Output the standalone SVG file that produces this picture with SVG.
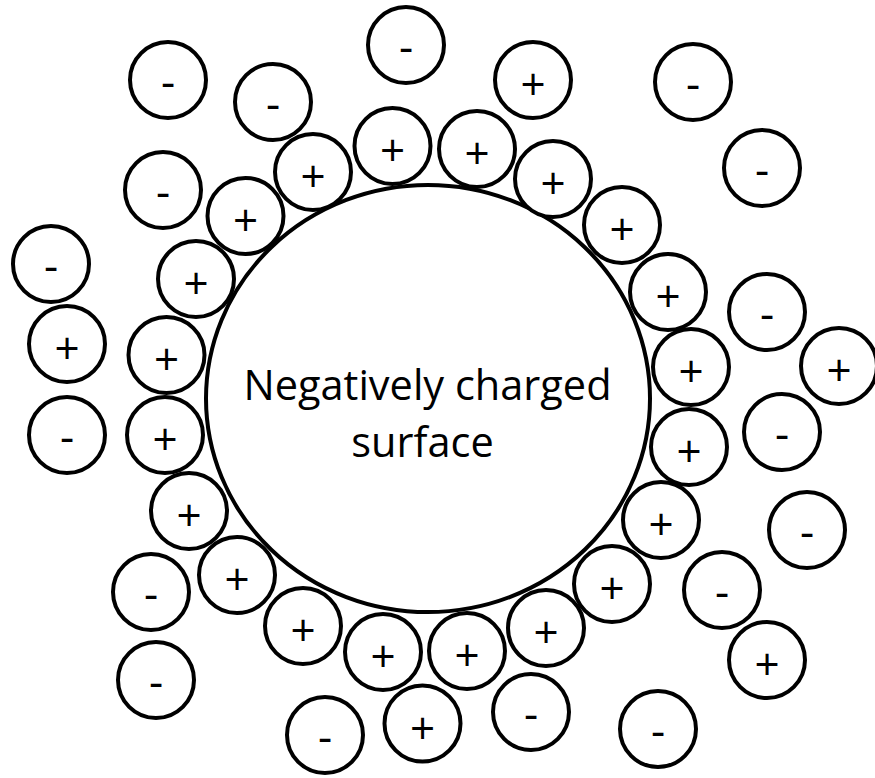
<svg xmlns="http://www.w3.org/2000/svg" width="875" height="778" viewBox="0 0 875 778">
<style>
  .ion circle { fill: #ffffff; stroke: #000000; stroke-width: 4; }
  .ion text { font-family: "Open Sans", "Liberation Sans", sans-serif; font-size: 44px; fill: #000000; text-anchor: middle; }
  .surface ellipse { fill: #ffffff; stroke: #000000; stroke-width: 4; }
  .surface text { font-family: "Open Sans", "Liberation Sans", sans-serif; font-size: 41.5px; fill: #000000; text-anchor: middle; }
</style>
<g id="surface" class="surface">
  <ellipse cx="428" cy="398.5" rx="222" ry="213.5"/>
  <text x="427.5" y="400">Negatively charged</text>
  <text x="422.5" y="456.5">surface</text>
</g>
<g id="ions">
  <g id="ion1" class="ion" transform="translate(168,80)"><circle r="38"/><text y="16.6">-</text></g>
  <g id="ion2" class="ion" transform="translate(273,102)"><circle r="38"/><text y="16.6">-</text></g>
  <g id="ion3" class="ion" transform="translate(406,45)"><circle r="38"/><text y="16.6">-</text></g>
  <g id="ion4" class="ion" transform="translate(392.5,146)"><circle r="38"/><text y="20">+</text></g>
  <g id="ion5" class="ion" transform="translate(313,172)"><circle r="38"/><text y="20">+</text></g>
  <g id="ion6" class="ion" transform="translate(163,190)"><circle r="38"/><text y="16.6">-</text></g>
  <g id="ion7" class="ion" transform="translate(245.5,216)"><circle r="38"/><text y="20">+</text></g>
  <g id="ion8" class="ion" transform="translate(196,279)"><circle r="38"/><text y="20">+</text></g>
  <g id="ion9" class="ion" transform="translate(51,264)"><circle r="38"/><text y="16.6">-</text></g>
  <g id="ion10" class="ion" transform="translate(67,344)"><circle r="38"/><text y="20">+</text></g>
  <g id="ion11" class="ion" transform="translate(166.5,355)"><circle r="38"/><text y="20">+</text></g>
  <g id="ion12" class="ion" transform="translate(533,80)"><circle r="38"/><text y="20">+</text></g>
  <g id="ion13" class="ion" transform="translate(693,82)"><circle r="38"/><text y="16.6">-</text></g>
  <g id="ion14" class="ion" transform="translate(477,149)"><circle r="38"/><text y="20">+</text></g>
  <g id="ion15" class="ion" transform="translate(553,179)"><circle r="38"/><text y="20">+</text></g>
  <g id="ion16" class="ion" transform="translate(762,168)"><circle r="38"/><text y="16.6">-</text></g>
  <g id="ion17" class="ion" transform="translate(622,225)"><circle r="38"/><text y="20">+</text></g>
  <g id="ion18" class="ion" transform="translate(668,292)"><circle r="38"/><text y="20">+</text></g>
  <g id="ion19" class="ion" transform="translate(767,312)"><circle r="38"/><text y="16.6">-</text></g>
  <g id="ion20" class="ion" transform="translate(691,367)"><circle r="38"/><text y="20">+</text></g>
  <g id="ion21" class="ion" transform="translate(839,366)"><circle r="38"/><text y="20">+</text></g>
  <g id="ion22" class="ion" transform="translate(67,435)"><circle r="38"/><text y="16.6">-</text></g>
  <g id="ion23" class="ion" transform="translate(165,435)"><circle r="38"/><text y="20">+</text></g>
  <g id="ion24" class="ion" transform="translate(189,511)"><circle r="38"/><text y="20">+</text></g>
  <g id="ion25" class="ion" transform="translate(237,575)"><circle r="38"/><text y="20">+</text></g>
  <g id="ion26" class="ion" transform="translate(151,592)"><circle r="38"/><text y="16.6">-</text></g>
  <g id="ion27" class="ion" transform="translate(303,626)"><circle r="38"/><text y="20">+</text></g>
  <g id="ion28" class="ion" transform="translate(383,652)"><circle r="38"/><text y="20">+</text></g>
  <g id="ion29" class="ion" transform="translate(156,680)"><circle r="38"/><text y="16.6">-</text></g>
  <g id="ion30" class="ion" transform="translate(325,735)"><circle r="38"/><text y="16.6">-</text></g>
  <g id="ion31" class="ion" transform="translate(422.5,723.5)"><circle r="38"/><text y="20">+</text></g>
  <g id="ion32" class="ion" transform="translate(689,447)"><circle r="38"/><text y="20">+</text></g>
  <g id="ion33" class="ion" transform="translate(782,432)"><circle r="38"/><text y="16.6">-</text></g>
  <g id="ion34" class="ion" transform="translate(661,520)"><circle r="38"/><text y="20">+</text></g>
  <g id="ion35" class="ion" transform="translate(807,530)"><circle r="38"/><text y="16.6">-</text></g>
  <g id="ion36" class="ion" transform="translate(612,584)"><circle r="38"/><text y="20">+</text></g>
  <g id="ion37" class="ion" transform="translate(722,590)"><circle r="38"/><text y="16.6">-</text></g>
  <g id="ion38" class="ion" transform="translate(546,628)"><circle r="38"/><text y="20">+</text></g>
  <g id="ion39" class="ion" transform="translate(467,651)"><circle r="38"/><text y="20">+</text></g>
  <g id="ion40" class="ion" transform="translate(767,660)"><circle r="38"/><text y="20">+</text></g>
  <g id="ion41" class="ion" transform="translate(531,712)"><circle r="38"/><text y="16.6">-</text></g>
  <g id="ion42" class="ion" transform="translate(658,729)"><circle r="38"/><text y="16.6">-</text></g>
</g>
</svg>
